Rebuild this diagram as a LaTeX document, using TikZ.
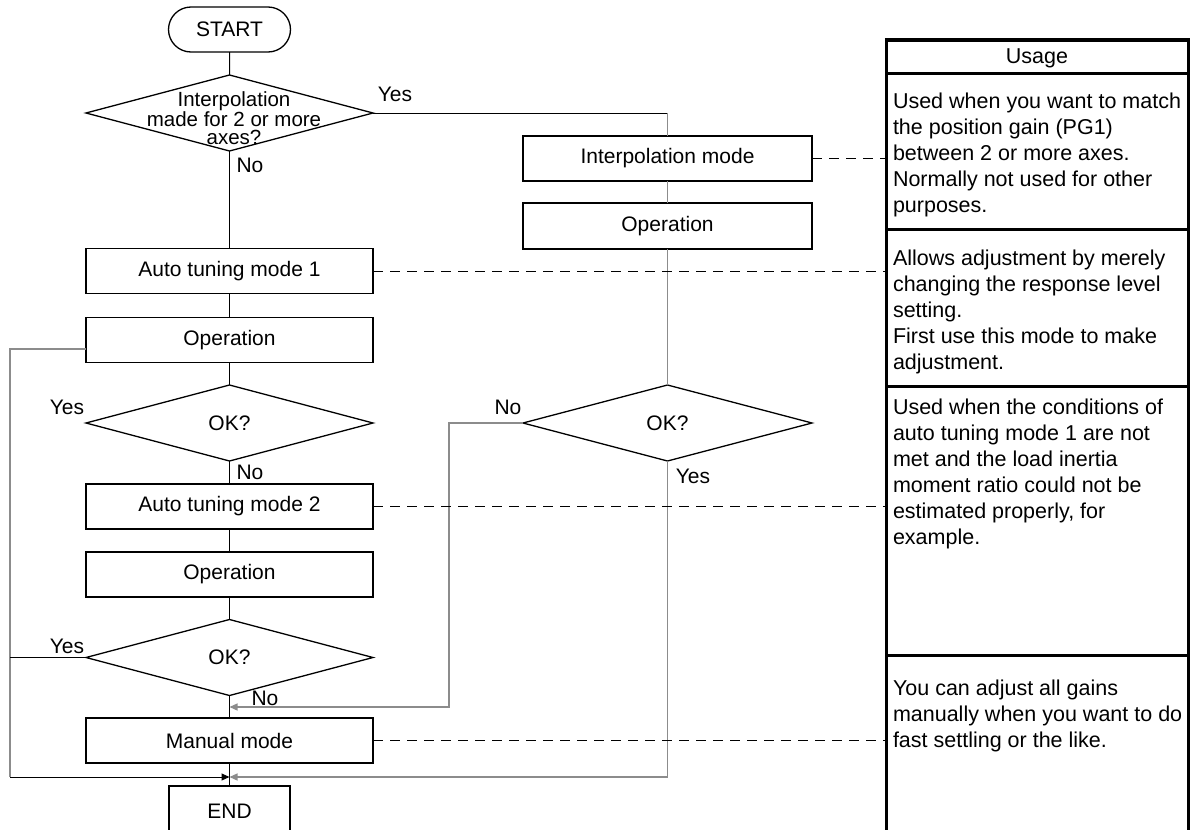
\documentclass[tikz,border=0pt]{standalone}
\usepackage{fontspec}
\setmainfont{Liberation Sans}
\usetikzlibrary{shapes.geometric,shapes.misc,arrows.meta}
\begin{document}
\begin{tikzpicture}[x=1pt,y=-1pt,
 every node/.style={font=\fontsize{21}{25}\selectfont, inner sep=0pt, outer sep=0pt},
 pbox/.style={draw, line width=1.3pt, minimum width=287pt, minimum height=45pt},
 dec/.style={draw, diamond, line width=1.3pt, minimum width=287pt, minimum height=76pt},
 flow/.style={line width=1pt},
 gflow/.style={line width=1.2pt, draw=black!45},
 tip/.style={-{Triangle[length=8pt,width=7pt]}},
 dsh/.style={line width=1pt, dash pattern=on 10pt off 7pt},
 tab/.style={line width=3.5pt},
 rowline/.style={line width=3pt},
 cell/.style={anchor=north west, align=left, font=\fontsize{21.5}{26}\selectfont}]
\useasboundingbox (0,0) rectangle (1192,830);
\fill[white] (0,0) rectangle (1192,830);

% left column
\node[draw, rounded rectangle, line width=1.3pt, minimum width=122pt, minimum height=45pt] (start) at (229.5,29.5) {START};
\node[dec] (d1) at (229.5,113) {};
\node[align=center, font=\fontsize{20.5}{18.5}\selectfont] (d1t) at (234,118) {Interpolation\\made for 2 or more\\axes?};
\node[pbox] (a1) at (229.5,271) {Auto tuning mode 1};
\node[pbox] (op1) at (229.5,340) {Operation};
\node[dec] (d2) at (229.5,423) {OK?};
\node[pbox] (a2) at (229.5,506.5) {Auto tuning mode 2};
\node[pbox] (op2) at (229.5,574.5) {Operation};
\node[dec] (d3) at (229.5,657.5) {OK?};
\node[pbox] (man) at (229.5,740.5) {Manual mode};
\node[pbox, minimum width=121pt, minimum height=50pt] (end) at (229.5,811) {END};

% right column
\node[pbox, minimum width=289pt] (ip) at (667.5,158.5) {Interpolation mode};
\node[pbox, minimum width=289pt, minimum height=46pt] (opr) at (667.5,226) {Operation};
\node[dec, minimum width=289pt] (d4) at (667.5,423) {OK?};

% labels
\node (y1) at (395,94) {Yes};
\node (n1) at (250,165) {No};
\node (y2) at (67,407) {Yes};
\node (n2) at (250,472) {No};
\node (y3) at (67,646) {Yes};
\node (n3) at (265,698) {No};
\node (n4) at (508,407) {No};
\node (y4) at (693,476) {Yes};

% coordinates
\coordinate (j1) at (229.5,707);
\coordinate (j2) at (229.5,777);
\coordinate (c1) at (667.5,113);
\coordinate (lx1) at (10,349);
\coordinate (lx2) at (10,777);
\coordinate (lx3) at (10,657.5);
\coordinate (r1) at (449,423);
\coordinate (r2) at (449,707);
\coordinate (r3) at (667.5,777);

% main flow
\draw[flow] (start) -- (d1);
\draw[flow] (d1) -- (a1);
\draw[flow] (a1) -- (op1);
\draw[flow] (op1) -- (d2);
\draw[flow] (d2) -- (a2);
\draw[flow] (a2) -- (op2);
\draw[flow] (op2) -- (d3);
\draw[flow] (d3) -- (man);
\draw[flow] (man) -- (end);
\draw[flow] (d1.east) -- (c1);
\draw[gflow] (c1) -- (ip.north);
\draw[gflow] (ip) -- (opr);
\draw[gflow] (opr) -- (d4);
\draw[gflow] (op1.west |- lx1) -- (lx1) -- (lx2);
\draw[flow] (d3.west) -- (lx3);
\draw[flow, tip] (lx2) -- (j2);
\draw[gflow, tip] (d4.south) -- (r3) -- (j2);
\draw[gflow, tip] (d4.west) -- (r1) -- (r2) -- (j1);

% table
\coordinate (t1) at (885,158.5);
\coordinate (t2) at (885,271);
\coordinate (t3) at (885,506.5);
\coordinate (t4) at (885,740.5);
\draw[dsh] (ip.east) -- (t1);
\draw[dsh] (a1.east) -- (t2);
\draw[dsh] (a2.east) -- (t3);
\draw[dsh] (man.east) -- (t4);

\draw[tab] (886.5,38.25) -- (886.5,835);
\draw[tab] (1188.5,38.25) -- (1188.5,835);
\draw[tab] (884.75,40) -- (1190.25,40);
\draw[rowline] (886,73) -- (1189,73);
\draw[rowline] (886,229) -- (1189,229);
\draw[rowline] (886,386) -- (1189,386);
\draw[rowline] (886,655) -- (1189,655);

\node[font=\fontsize{21.5}{26}\selectfont] (hd) at (1037,58) {Usage};
\node[cell] (u1) at (893,88.5) {\rule{0pt}{20pt}Used when you want to match\\the position gain (PG1)\\between 2 or more axes.\\Normally not used for other\\purposes.};
\node[cell] (u2) at (893,245.5) {\rule{0pt}{20pt}Allows adjustment by merely\\changing the response level\\setting.\\First use this mode to make\\adjustment.};
\node[cell] (u3) at (893,394.5) {\rule{0pt}{20pt}Used when the conditions of\\auto tuning mode 1 are not\\met and the load inertia\\moment ratio could not be\\estimated properly, for\\example.};
\node[cell] (u4) at (893,675.5) {\rule{0pt}{20pt}You can adjust all gains\\manually when you want to do\\fast settling or the like.};
\end{tikzpicture}
\end{document}
